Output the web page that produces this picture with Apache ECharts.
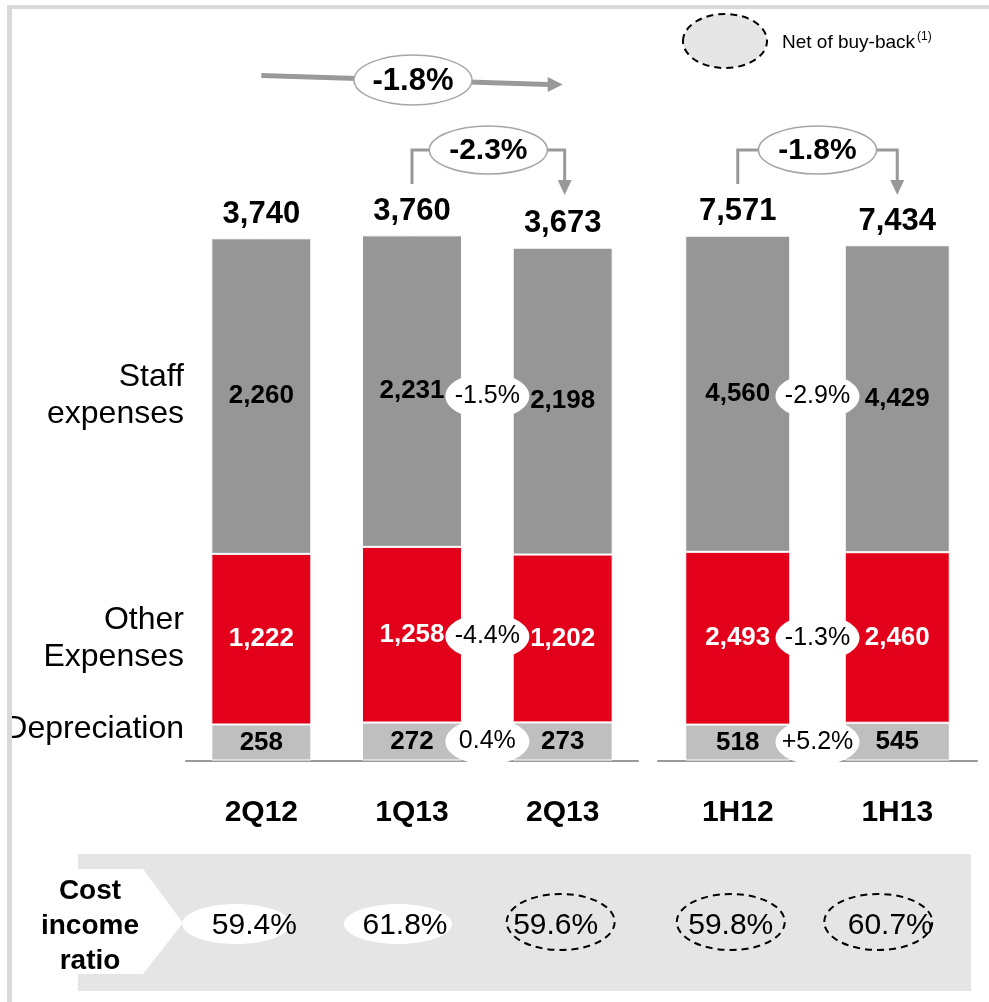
<!DOCTYPE html>
<html>
<head>
<meta charset="utf-8">
<script src="https://cdn.jsdelivr.net/npm/echarts@6/dist/echarts.min.js"></script>
<style>
  html, body { margin: 0; padding: 0; background: #fff; }
  #main { width: 989px; height: 1002px; }
</style>
</head>
<body>
<div id="main"></div>
<script>
// quarters (left block) and half years (right block)
var categoriesQ = ['2Q12', '1Q13', '2Q13'];
var categoriesH = ['1H12', '1H13'];

var staffQ = [2260, 2231, 2198];
var otherQ = [1222, 1258, 1202];
var deprQ = [258, 272, 273];
var totalQ = [3740, 3760, 3673];

var staffH = [4560, 4429];
var otherH = [2493, 2460];
var deprH = [518, 545];
var totalH = [7571, 7434];

// change 1Q13 -> 2Q13 and 1H12 -> 1H13 : staff, other, depreciation
var changeQ = ['-1.5%', '-4.4%', '0.4%'];
var changeH = ['-2.9%', '-1.3%', '+5.2%'];
var changeYoY = '-1.8%';   // 2Q12 -> 2Q13
var changeQoQ = '-2.3%';   // 1Q13 -> 2Q13
var changeHalf = '-1.8%';  // 1H12 -> 1H13

var costIncome = ['59.4%', '61.8%', '59.6%', '59.8%', '60.7%'];
var netOfBuyback = [false, false, true, true, true];

var FONT = '"Liberation Sans", Arial, Helvetica, sans-serif';
var C_STAFF = '#969696', C_OTHER = '#e2001a', C_DEPR = '#bfbfbf';

var chart = echarts.init(document.getElementById('main'));

function fmt(p) { return Number(p.value).toLocaleString('en-US'); }

function barSeries(name, data, color, labelColor, axis, barWidth) {
  return {
    name: name, type: 'bar', stack: 's' + axis,
    xAxisIndex: axis, yAxisIndex: axis,
    data: data, barWidth: barWidth,
    itemStyle: { color: color, borderColor: '#fff', borderWidth: 1 },
    label: {
      show: true, position: 'inside', formatter: fmt,
      color: labelColor, fontSize: 26, fontWeight: 'bold', fontFamily: FONT
    }
  };
}

function totalSeries(data, axis) {
  return {
    type: 'scatter', xAxisIndex: axis, yAxisIndex: axis,
    data: data, symbolSize: 1,
    itemStyle: { color: '#fff', opacity: 1 },
    label: {
      show: true, position: 'top', distance: 8, formatter: fmt, opacity: 1,
      color: '#000', fontSize: 31, fontWeight: 'bold', fontFamily: FONT
    }
  };
}

function catAxis(data, idx) {
  return {
    type: 'category', gridIndex: idx, data: data,
    axisTick: { show: false },
    axisLine: { lineStyle: { color: '#9a9a9a', width: 2 } },
    axisLabel: { margin: 37, color: '#000', fontSize: 30, fontWeight: 'bold', fontFamily: FONT }
  };
}

var option = {
  animation: false,
  backgroundColor: '#fff',
  grid: [
    { left: 186, width: 452, top: 202, bottom: 241.5 },
    { left: 658, width: 319, top: 206, bottom: 241.5 }
  ],
  xAxis: [catAxis(categoriesQ, 0), catAxis(categoriesH, 1)],
  yAxis: [
    { type: 'value', gridIndex: 0, min: 0, max: 4000, show: false },
    { type: 'value', gridIndex: 1, min: 0, max: 8000, show: false }
  ],
  series: [
    barSeries('Depreciation', deprQ, C_DEPR, '#000', 0, 100),
    barSeries('Other Expenses', otherQ, C_OTHER, '#fff', 0, 100),
    barSeries('Staff expenses', staffQ, C_STAFF, '#000', 0, 100),
    totalSeries(totalQ, 0),
    barSeries('Depreciation', deprH, C_DEPR, '#000', 1, 105),
    barSeries('Other Expenses', otherH, C_OTHER, '#fff', 1, 105),
    barSeries('Staff expenses', staffH, C_STAFF, '#000', 1, 105),
    totalSeries(totalH, 1)
  ]
};
chart.setOption(option);

// ---- annotations placed from the chart's own scales ----
function px(grid, cat, val) { return chart.convertToPixel({ gridIndex: grid }, [cat, val]); }

function txt(text, x, y, size, weight, color, align, extra) {
  var st = {
    text: text, x: x, y: y, fill: color || '#000',
    font: (weight || 'normal') + ' ' + size + 'px ' + FONT,
    align: align || 'center', verticalAlign: 'middle',
    textAlign: align || 'center', textVerticalAlign: 'middle'
  };
  if (extra) for (var k in extra) st[k] = extra[k];
  return { type: 'text', z: 30, style: st };
}
function ellipse(cx, cy, rx, ry, style) {
  return { type: 'ellipse', z: 25, shape: { cx: cx, cy: cy, rx: rx, ry: ry }, style: style };
}

// segment centers of a stacked bar
function segCenters(depr, other, staff, i) {
  return [depr[i] / 2, depr[i] + other[i] / 2, depr[i] + other[i] + staff[i] / 2];
}

var g = [];

// change bubbles between bars
function changeBubbles(grid, a, b, depr, other, staff, labels) {
  var ca = segCenters(depr, other, staff, a);
  var cb = segCenters(depr, other, staff, b);
  var order = [2, 1, 0]; // labels: staff, other, depr
  for (var k = 0; k < 3; k++) {
    var s = order[k];
    var pa = px(grid, a, ca[s]), pb = px(grid, b, cb[s]);
    var cx = (pa[0] + pb[0]) / 2, cy = (pa[1] + pb[1]) / 2;
    g.push(ellipse(cx, cy, 42, 23, { fill: '#fff' }));
    g.push(txt(labels[k], cx, cy, 25, 'normal'));
  }
}
changeBubbles(0, 1, 2, deprQ, otherQ, staffQ, changeQ);
changeBubbles(1, 0, 1, deprH, otherH, staffH, changeH);

// side labels next to the first bar
var c0 = segCenters(deprQ, otherQ, staffQ, 0);
var sideX = 184;
g.push(txt('Staff\nexpenses', sideX, px(0, 0, c0[2])[1], 32, 'normal', '#000', 'right', { lineHeight: 37 }));
g.push(txt('Other\nExpenses', sideX, px(0, 0, c0[1])[1], 32, 'normal', '#000', 'right', { lineHeight: 37 }));
g.push(txt('Depreciation', sideX, px(0, 0, c0[0])[1] - 13, 32, 'normal', '#000', 'right'));

// long arrow 2Q12 -> 2Q13
var ARW = '#999999';
var xa = px(0, 0, 0)[0], xb = px(0, 2, 0)[0];
g.push({ type: 'line', z: 20, shape: { x1: xa, y1: 75.5, x2: xb - 14, y2: 84.5 }, style: { stroke: ARW, lineWidth: 5 } });
g.push({ type: 'polygon', z: 20, shape: { points: [[xb - 15, 77], [xb, 84.5], [xb - 15, 92]] }, style: { fill: ARW } });
var mx = (xa + xb) / 2 + 1;
g.push(ellipse(mx, 80, 59, 25, { fill: '#fff', stroke: '#a6a6a6', lineWidth: 1.5 }));
g.push(txt(changeYoY, mx, 81, 31, 'bold'));

// bracket arrows
function bracket(x1, x2, label) {
  g.push({ type: 'polyline', z: 20, shape: { points: [[x1, 184], [x1, 150], [x2, 150], [x2, 182]] },
    style: { stroke: ARW, lineWidth: 3, fill: null } });
  g.push({ type: 'polygon', z: 20, shape: { points: [[x2 - 7, 180], [x2 + 7, 180], [x2, 195]] }, style: { fill: ARW } });
  var m = (x1 + x2) / 2;
  g.push(ellipse(m, 150, 59, 24, { fill: '#fff', stroke: '#a6a6a6', lineWidth: 1.5 }));
  g.push(txt(label, m, 151, 30, 'bold'));
}
bracket(px(0, 1, 0)[0], px(0, 2, 0)[0] + 2, changeQoQ);
bracket(px(1, 0, 0)[0], px(1, 1, 0)[0], changeHalf);

// legend
g.push(ellipse(725, 41, 42, 27, { fill: '#e6e6e6', stroke: '#000', lineWidth: 2, lineDash: [7, 5] }));
g.push(txt('Net of buy-back', 782, 43, 19, 'normal', '#000', 'left'));
g.push(txt('(1)', 917, 37, 12, 'normal', '#000', 'left'));

// cost income ratio row
g.push({ type: 'rect', z: 5, shape: { x: 78, y: 854, width: 893, height: 137 }, style: { fill: '#e5e5e5' } });
g.push({ type: 'polygon', z: 6, shape: { points: [[78, 869], [143, 869], [183, 923], [143, 974], [78, 974]] }, style: { fill: '#fff' } });
g.push(txt('Cost\nincome\nratio', 90, 926, 28, 'bold', '#000', 'center', { lineHeight: 35 }));
var allCats = [[0, 0], [0, 1], [0, 2], [1, 0], [1, 1]];
var ovalShift = [-25, -14, -2, -7, -19];
for (var i = 0; i < costIncome.length; i++) {
  var cx = px(allCats[i][0], allCats[i][1], 0)[0];
  if (netOfBuyback[i]) {
    g.push(ellipse(cx + ovalShift[i], 922, 54, 28, { fill: null, stroke: '#000', lineWidth: 2, lineDash: [7, 5] }));
  } else {
    g.push(ellipse(cx + ovalShift[i], 924, 54, 20, { fill: '#fff' }));
  }
  g.push(txt(costIncome[i], cx - 7, 926, 30, 'normal'));
}

// frame
g.push({ type: 'rect', z: 40, shape: { x: 0, y: 0, width: 7, height: 1002 }, style: { fill: '#fff' } });
g.push({ type: 'rect', z: 41, shape: { x: 7, y: 5, width: 982, height: 4 }, style: { fill: '#d9d9d9' } });
g.push({ type: 'rect', z: 41, shape: { x: 7, y: 5, width: 5, height: 997 }, style: { fill: '#d9d9d9' } });

chart.setOption({ graphic: { elements: g } });
</script>
</body>
</html>
